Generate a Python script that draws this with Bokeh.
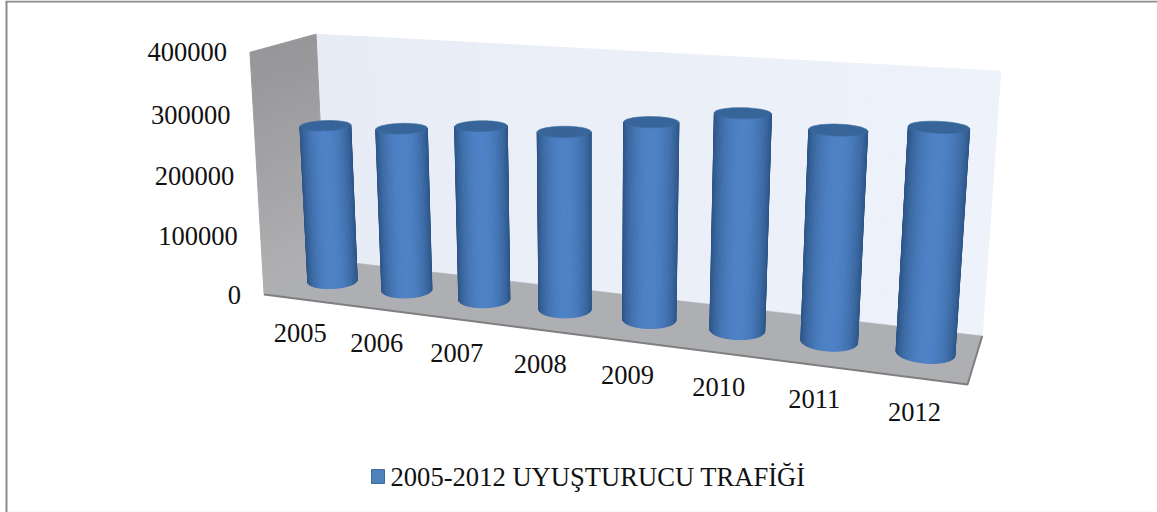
import numpy as np
from bokeh.plotting import figure
from bokeh.core.properties import value
from bokeh.embed import file_html
from bokeh.resources import INLINE

years = ["2005", "2006", "2007", "2008", "2009", "2010", "2011", "2012"]
traffic = [267000, 272000, 286000, 287000, 312000, 335000, 320000, 334000]
ticks = [0, 100000, 200000, 300000, 400000]
legend_label = "2005-2012 UYUŞTURUCU TRAFİĞİ"
y_max = 400000

W, H = 1157, 512
FONT = value("Liberation Serif")
p = figure(width=W, height=H, x_range=(0, W), y_range=(H, 0), output_backend="svg",
           toolbar_location=None, min_border=0, outline_line_color=None,
           background_fill_color="white", border_fill_color="white")
p.axis.visible = False
p.grid.visible = False

# calibration of the 3D box: (category axis, depth, value share) -> screen
box = [((0, 1, 0), (322, 260)), ((1, 1, 0), (982, 336)), ((0, 0, 0), (265, 296)),
       ((1, 0, 0), (966, 385)), ((0, 1, 1), (318, 35)), ((1, 1, 1), (1000, 70)),
       ((0, 0, 1), (247, 51)), ((1/16, .5, 0), (335, 277)), ((15/16, .5, 0), (925.5, 352))]
A = []
for (a, b, c), (sx, sy) in box:
    q = [a, b, c, 1]
    A.append(q + [0, 0, 0, 0] + [-sx * t for t in q])
    A.append([0, 0, 0, 0] + q + [-sy * t for t in q])
M = np.linalg.svd(np.array(A, float))[2][-1].reshape(3, 4)


def proj(u, v, w):
    u, v, w = np.broadcast_arrays(np.asarray(u, float), np.asarray(v, float), np.asarray(w, float))
    X = np.stack([u, v, w, np.ones_like(u)])
    r = M @ X.reshape(4, -1)
    return (r[0] / r[2]).reshape(u.shape), (r[1] / r[2]).reshape(u.shape)


def hexmix(c0, c1, t):
    a = np.array(c0, float) * (1 - t) + np.array(c1, float) * t
    return "#%02x%02x%02x" % tuple(int(round(k)) for k in a)


def quad(u, v, w):
    x, y = proj(u, v, w)
    return list(x), list(y)


# back wall
xs, ys, cs = [], [], []
N = 30
for i in range(N):
    a, b = i / N, (i + 1) / N
    x, y = quad([a, b, b, a], [1, 1, 1, 1], [0, 0, 1, 1])
    xs.append(x); ys.append(y); cs.append(hexmix((231, 236, 246), (238, 242, 250), a))
p.patches(xs, ys, fill_color=cs, line_color=cs, line_width=1)

# side wall
xs, ys, cs = [], [], []
for i in range(N):
    a, b = i / N, (i + 1) / N
    x, y = quad([0, 0, 0, 0], [0, 1, 1, 0], [a, a, b, b])
    xs.append(x); ys.append(y); cs.append(hexmix((176, 176, 179), (150, 150, 153), a))
p.patches(xs, ys, fill_color=cs, line_color=cs, line_width=1)

# floor
x, y = quad([0, 1, 1, 0], [0, 0, 1, 1], [0, 0, 0, 0])
p.patch(x, y, fill_color="#adafb2", line_color="#adafb2", line_width=0.5)
x, y = proj([0, 1, 1], [0, 0, 1], [0, 0, 0])
p.line(x, y, line_color="#7f7f7f", line_width=2)

# cylinders
RU, RV = 0.037, 0.2
th = np.linspace(0, 2 * np.pi, 73)
for i, val in enumerate(traffic):
    uc = (i + 0.5) / len(traffic)
    wt = val / y_max
    cu, sv = uc + RU * np.cos(th), 0.5 + RV * np.sin(th)
    bx, by = proj(cu, sv, 0 * th)
    tx, ty = proj(cu, sv, wt + 0 * th)
    strips = []
    for k in range(len(th) - 1):
        sx = [bx[k], bx[k + 1], tx[k + 1], tx[k]]
        sy = [by[k], by[k + 1], ty[k + 1], ty[k]]
        area = sum(sx[j] * sy[(j + 1) % 4] - sx[(j + 1) % 4] * sy[j] for j in range(4))
        if area < 0:
            strips.append((sx, sy))
    lo = min(min(s[0][:2]) for s in strips)
    hi = max(max(s[0][:2]) for s in strips)
    strips.sort(key=lambda s: abs(np.mean(s[0][:2]) - (lo + hi) / 2), reverse=True)
    xs, ys, cs = [], [], []
    for sx, sy in strips:
        t = (np.mean(sx[:2]) - lo) / (hi - lo)
        f = np.sin(np.pi * min(max(t, 0), 1)) ** 0.7
        cs.append(hexmix((43, 82, 130), (78, 130, 198), f))
        xs.append(sx); ys.append(sy)
    p.patches(xs, ys, fill_color=cs, line_color=cs, line_width=1)
    p.patch(list(tx), list(ty), fill_color="#376599", line_color="#3b6a9f", line_width=0.6)

# value labels
for t in ticks:
    x, y = proj(0, 0, t / y_max)
    p.text([float(x) - 23], [float(y)], text=[str(t)], text_font=FONT, text_font_size=value("26.5px"),
           text_color="#111111", text_align="right", text_baseline="middle")

# category labels
for i, yr in enumerate(years):
    x, y = proj((i + 0.5) / len(years), 0, 0)
    p.text([float(x) - 1], [float(y) + 34], text=[yr], text_font=FONT, text_font_size=value("26.5px"),
           text_color="#111111", text_align="center", text_baseline="middle")

# legend
p.quad(left=[371], right=[384], top=[469], bottom=[483], fill_color="#4f81bd", line_color="#41699b", line_width=1)
p.text([390], [476], text=[legend_label], text_font=FONT, text_font_size=value("26.6px"),
       text_color="#111111", text_align="left", text_baseline="middle")

# frame
p.line([6, 6], [512, 1], line_color="#8c8c8c", line_width=2)
p.line([5, 1157], [1, 1], line_color="#8c8c8c", line_width=2)
p.line([7, 1157], [511.5, 511.5], line_color="#f0f0f0", line_width=1)

open("out.html", "w").write(file_html(p, INLINE))
